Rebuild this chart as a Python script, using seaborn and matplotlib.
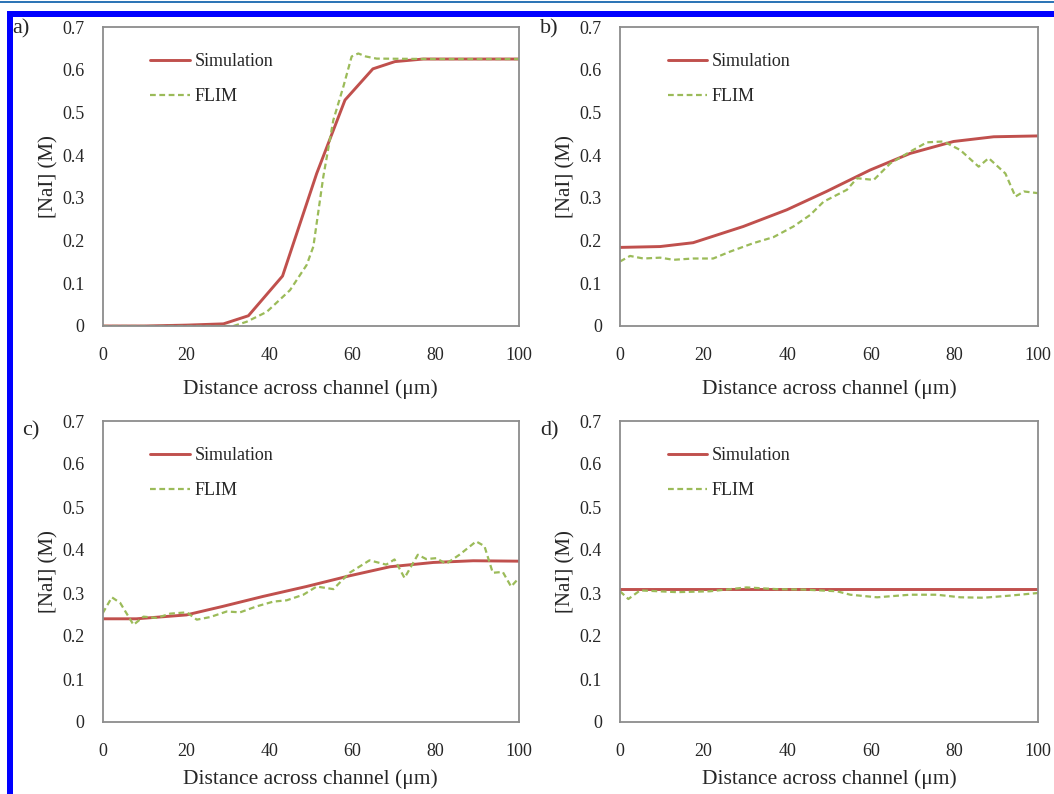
import numpy as np
import pandas as pd
import matplotlib
matplotlib.use("Agg")
import matplotlib.pyplot as plt
from matplotlib.patches import Rectangle
from matplotlib.ticker import FuncFormatter, MultipleLocator
import seaborn as sns

# ---------------- data ----------------
a_sim_x = [0, 10, 20, 29.0, 35.0, 43.2, 51.4, 58.2, 64.9, 70.2, 77.0, 85, 100]
a_sim_y = [0, 0, 0.002, 0.005, 0.024, 0.117, 0.357, 0.529, 0.602, 0.619, 0.625, 0.625, 0.625]
a_flim_x = [0, 10, 20, 31.4, 34.6, 39.4, 45.0, 49.0, 50.6, 53.0, 55.4, 57.8, 59.8, 61.4, 63.2, 65.8, 80, 100]
a_flim_y = [0, 0, 0, 0, 0.010, 0.033, 0.084, 0.143, 0.186, 0.350, 0.482, 0.560, 0.631, 0.638, 0.631, 0.626, 0.625, 0.625]

b_sim_x = [0, 9.6, 17.5, 29.5, 39.9, 49.4, 59.8, 69.4, 79.8, 89.4, 100]
b_sim_y = [0.184, 0.186, 0.195, 0.233, 0.272, 0.315, 0.365, 0.404, 0.432, 0.443, 0.445]
b_flim_x = [0, 2.4, 5.6, 9.6, 12.8, 17.5, 22.3, 26.3, 31.9, 36.7, 41.5, 45.5, 48.7, 54.3, 56.7,
            60.7, 64.7, 69.4, 73.4, 77.4, 81.4, 85.8, 88.2, 92.2, 94.6, 96.6, 100]
b_flim_y = [0.151, 0.164, 0.158, 0.160, 0.155, 0.158, 0.158, 0.174, 0.194, 0.208, 0.233, 0.260, 0.291,
            0.319, 0.346, 0.342, 0.381, 0.408, 0.430, 0.432, 0.412, 0.373, 0.393, 0.357, 0.303, 0.315, 0.311]

c_sim_x = [0, 8.1, 20.1, 28.9, 38.5, 48.9, 59.3, 69.0, 79.4, 89.0, 100]
c_sim_y = [0.240, 0.240, 0.249, 0.269, 0.292, 0.315, 0.340, 0.361, 0.371, 0.375, 0.374]
c_flim_x = [0, 2.2, 4.2, 7.4, 9.8, 13.0, 16.2, 20.2, 22.6, 25.8, 29.8, 33.0, 37.0, 41.0, 44.2, 48.2,
            51.4, 55.4, 59.3, 64.1, 68.1, 70.1, 72.5, 75.7, 77.7, 80.1, 82.5, 85.7, 89.7, 91.7,
            93.7, 96.1, 98.1, 100]
c_flim_y = [0.253, 0.290, 0.277, 0.226, 0.245, 0.242, 0.252, 0.255, 0.238, 0.244, 0.257, 0.255, 0.269,
            0.280, 0.283, 0.296, 0.315, 0.309, 0.347, 0.376, 0.366, 0.378, 0.335, 0.389, 0.379, 0.381,
            0.368, 0.389, 0.420, 0.409, 0.347, 0.349, 0.315, 0.335]

d_sim_x = [0, 100]
d_sim_y = [0.309, 0.309]
d_flim_x = [0, 2.0, 4.8, 13.6, 21.5, 30.3, 37.5, 43.9, 51.9, 55.1, 61.5, 69.4, 75.8, 81.4, 87.0, 93.4, 100]
d_flim_y = [0.304, 0.286, 0.306, 0.302, 0.304, 0.313, 0.309, 0.308, 0.304, 0.296, 0.290, 0.296, 0.296,
            0.290, 0.289, 0.294, 0.300]

panel_labels = ["a)", "b)", "c)", "d)"]
series_names = ["Simulation", "FLIM"]
x_ticks = [0, 20, 40, 60, 80, 100]
y_ticks = [0, 0.1, 0.2, 0.3, 0.4, 0.5, 0.6, 0.7]
x_label = "Distance across channel (\u03bcm)"
y_label = "[NaI] (M)"

# ---------------- style ----------------
sns.set_theme(style="white")
plt.rcParams["font.family"] = ["Liberation Serif", "DejaVu Serif"]

RED = "#C0504D"
GREEN = "#9BBB59"
SPINE = "#8C8C8C"
TXT = "#262626"

W, H = 1054, 794
fig = plt.figure(figsize=(W / 100, H / 100), dpi=100)

# decorative blue border
fig.patches.append(Rectangle((0, (H - 2.5) / H), 1, 1.5 / H, transform=fig.transFigure,
                             facecolor="#2E75B6", edgecolor="none"))
fig.patches.append(Rectangle((7 / W, (H - 17) / H), 1, 5.5 / H, transform=fig.transFigure,
                             facecolor="#0000FF", edgecolor="none"))
fig.patches.append(Rectangle((7 / W, 0), 6 / W, (H - 12) / H, transform=fig.transFigure,
                             facecolor="#0000FF", edgecolor="none"))

def px_axes(x0, y0, x1, y1):
    return fig.add_axes([x0 / W, (H - y1) / H, (x1 - x0) / W, (y1 - y0) / H])

boxes = [(102.7, 27, 519, 326), (620, 27, 1038, 326),
         (102.7, 421, 519, 722), (620, 421, 1038, 722)]
sims = [(a_sim_x, a_sim_y), (b_sim_x, b_sim_y), (c_sim_x, c_sim_y), (d_sim_x, d_sim_y)]
flims = [(a_flim_x, a_flim_y), (b_flim_x, b_flim_y), (c_flim_x, c_flim_y), (d_flim_x, d_flim_y)]
label_pos = [(12, 29), (540, 29), (22, 431), (540, 431)]

yfmt = FuncFormatter(lambda v, p: "0" if abs(v) < 1e-9 else f"{v:.1f}")

for i, box in enumerate(boxes):
    ax = px_axes(*box)
    sx, sy = sims[i]
    fx, fy = flims[i]
    sns.lineplot(x=sx, y=sy, ax=ax, color=RED, linewidth=2.1, estimator=None,
                 sort=False, label=series_names[0])
    sns.lineplot(x=fx, y=fy, ax=ax, color=GREEN, linewidth=1.6, estimator=None,
                 sort=False, label=series_names[1], linestyle=(0, (2.6, 1.6)))
    ax.set_xlim(0, 100)
    ax.set_ylim(0, 0.7)
    ax.set_xticks(x_ticks)
    ax.set_yticks(y_ticks)
    ax.yaxis.set_major_formatter(yfmt)
    ax.tick_params(axis="both", direction="in", length=5, width=1, color=SPINE,
                   labelsize=13, labelcolor=TXT)
    ax.tick_params(axis="x", pad=15)
    ax.tick_params(axis="y", pad=13)
    for s in ax.spines.values():
        s.set_color(SPINE)
        s.set_linewidth(1.3)
    ax.set_xlabel(x_label, fontsize=15.5, color=TXT, labelpad=(11 if i < 2 else 7))
    ax.set_ylabel(y_label, fontsize=15, color=TXT, labelpad=3)
    ax.grid(False)
    leg = ax.legend(loc="upper left", bbox_to_anchor=(0.114, 0.913), frameon=False,
                    borderaxespad=0, borderpad=0, handlelength=2.2, handletextpad=0.25,
                    labelspacing=1.0, fontsize=13)
    for t in leg.get_texts():
        t.set_color(TXT)
    lx, ly = label_pos[i]
    fig.text(lx / W, 1 - ly / H, panel_labels[i], fontsize=16, color=TXT,
             ha="left", va="center")

fig.savefig("out.png", dpi=100)
